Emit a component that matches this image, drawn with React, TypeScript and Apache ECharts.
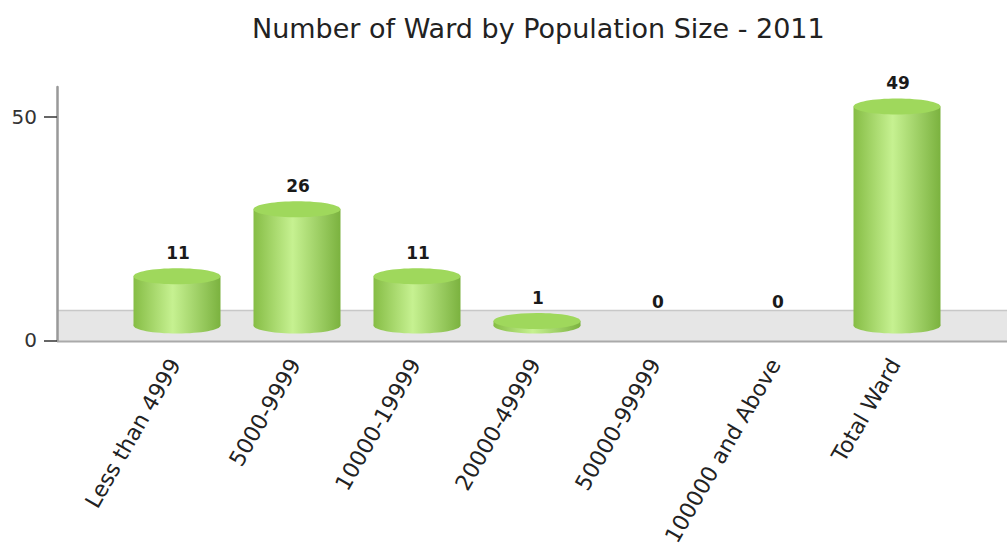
import React, { useEffect, useRef } from 'react';
import * as echarts from 'echarts';

const categories = [
  'Less than 4999',
  '5000-9999',
  '10000-19999',
  '20000-49999',
  '50000-99999',
  '100000 and Above',
  'Total Ward',
];
const wardCounts = [11, 26, 11, 1, 0, 0, 49];
const yTickValues = [0, 50];
const titleText = 'Number of Ward by Population Size - 2011';

const FONT = "Verdana, 'DejaVu Sans', sans-serif";

export default function App() {
  const ref = useRef<HTMLDivElement>(null);

  useEffect(() => {
    const chart = echarts.init(ref.current!, null, { renderer: 'svg' });
    const DEPTH = 15;
    const RY = 8;
    const bodyGrad = () =>
      new echarts.graphic.LinearGradient(0, 0, 1, 0, [
        { offset: 0, color: '#86bd45' },
        { offset: 0.45, color: '#c6f191' },
        { offset: 1, color: '#7bb23f' },
      ]);

    chart.setOption({
      animation: false,
      title: {
        text: titleText,
        left: 247,
        top: 10,
        textStyle: { fontFamily: FONT, fontSize: 27, fontWeight: 'normal', color: '#222' },
      },
      grid: { left: 115, right: 52, top: 87, bottom: 207 },
      graphic: [
        {
          type: 'rect',
          z: 1,
          shape: { x: 57, y: 310, width: 950, height: 32 },
          style: { fill: '#e6e6e6' },
        },
        {
          type: 'line',
          z: 1,
          shape: { x1: 57, y1: 310.5, x2: 1007, y2: 310.5 },
          style: { stroke: '#c8c8c8', lineWidth: 1.5 },
        },
        {
          type: 'line',
          z: 1,
          shape: { x1: 57, y1: 341.5, x2: 1007, y2: 341.5 },
          style: { stroke: '#aaaaaa', lineWidth: 2 },
        },
      ],
      xAxis: {
        type: 'category',
        data: categories,
        axisLine: { show: false },
        axisTick: { alignWithLabel: true, length: 5, lineStyle: { color: '#333', width: 1.5 } },
        axisLabel: {
          rotate: 60,
          interval: 0,
          fontSize: 22,
          fontFamily: FONT,
          color: '#222',
          margin: 20,
        },
      },
      yAxis: {
        type: 'value',
        min: 0,
        max: 56.7,
        offset: 58,
        z: 3,
        splitLine: { show: false },
        axisLine: { show: true, lineStyle: { color: '#999', width: 2.5 } },
        axisTick: {
          show: true,
          length: 13,
          customValues: yTickValues,
          lineStyle: { color: '#333', width: 1.5 },
        },
        axisLabel: {
          customValues: yTickValues,
          fontSize: 20,
          fontFamily: FONT,
          color: '#333',
          margin: 20,
        },
      },
      series: [
        {
          type: 'custom',
          z: 2,
          data: wardCounts.map((v, i) => [i, v]),
          renderItem: (params: any, api: any) => {
            const i = api.value(0);
            const v = api.value(1);
            const base = api.coord([i, 0]);
            const top = api.coord([i, v]);
            const cx = base[0] + 2;
            const w = api.size([1, 0])[0] * 0.725;
            const rx = w / 2;
            const by = base[1] - DEPTH;
            const ty = top[1] - DEPTH;
            const children: any[] = [];
            if (v > 0) {
              children.push({
                type: 'ellipse',
                shape: { cx, cy: by, rx, ry: RY },
                style: { fill: bodyGrad() },
              });
              children.push({
                type: 'rect',
                shape: { x: cx - rx, y: ty, width: w, height: by - ty },
                style: { fill: bodyGrad() },
              });
              children.push({
                type: 'ellipse',
                shape: { cx, cy: ty, rx, ry: RY },
                style: { fill: '#9fd85c' },
              });
            }
            children.push({
              type: 'text',
              style: {
                text: String(v),
                x: cx + 1,
                y: ty - RY - 15,
                align: 'center',
                verticalAlign: 'middle',
                fontSize: 17,
                fontWeight: 'bold',
                fontFamily: FONT,
                fill: '#1a1a1a',
              },
            });
            return { type: 'group', children };
          },
        },
      ],
    });

    return () => chart.dispose();
  }, []);

  return (
    <div
      ref={ref}
      style={{ position: 'absolute', left: 0, top: 0, width: 1007, height: 549 }}
    />
  );
}
